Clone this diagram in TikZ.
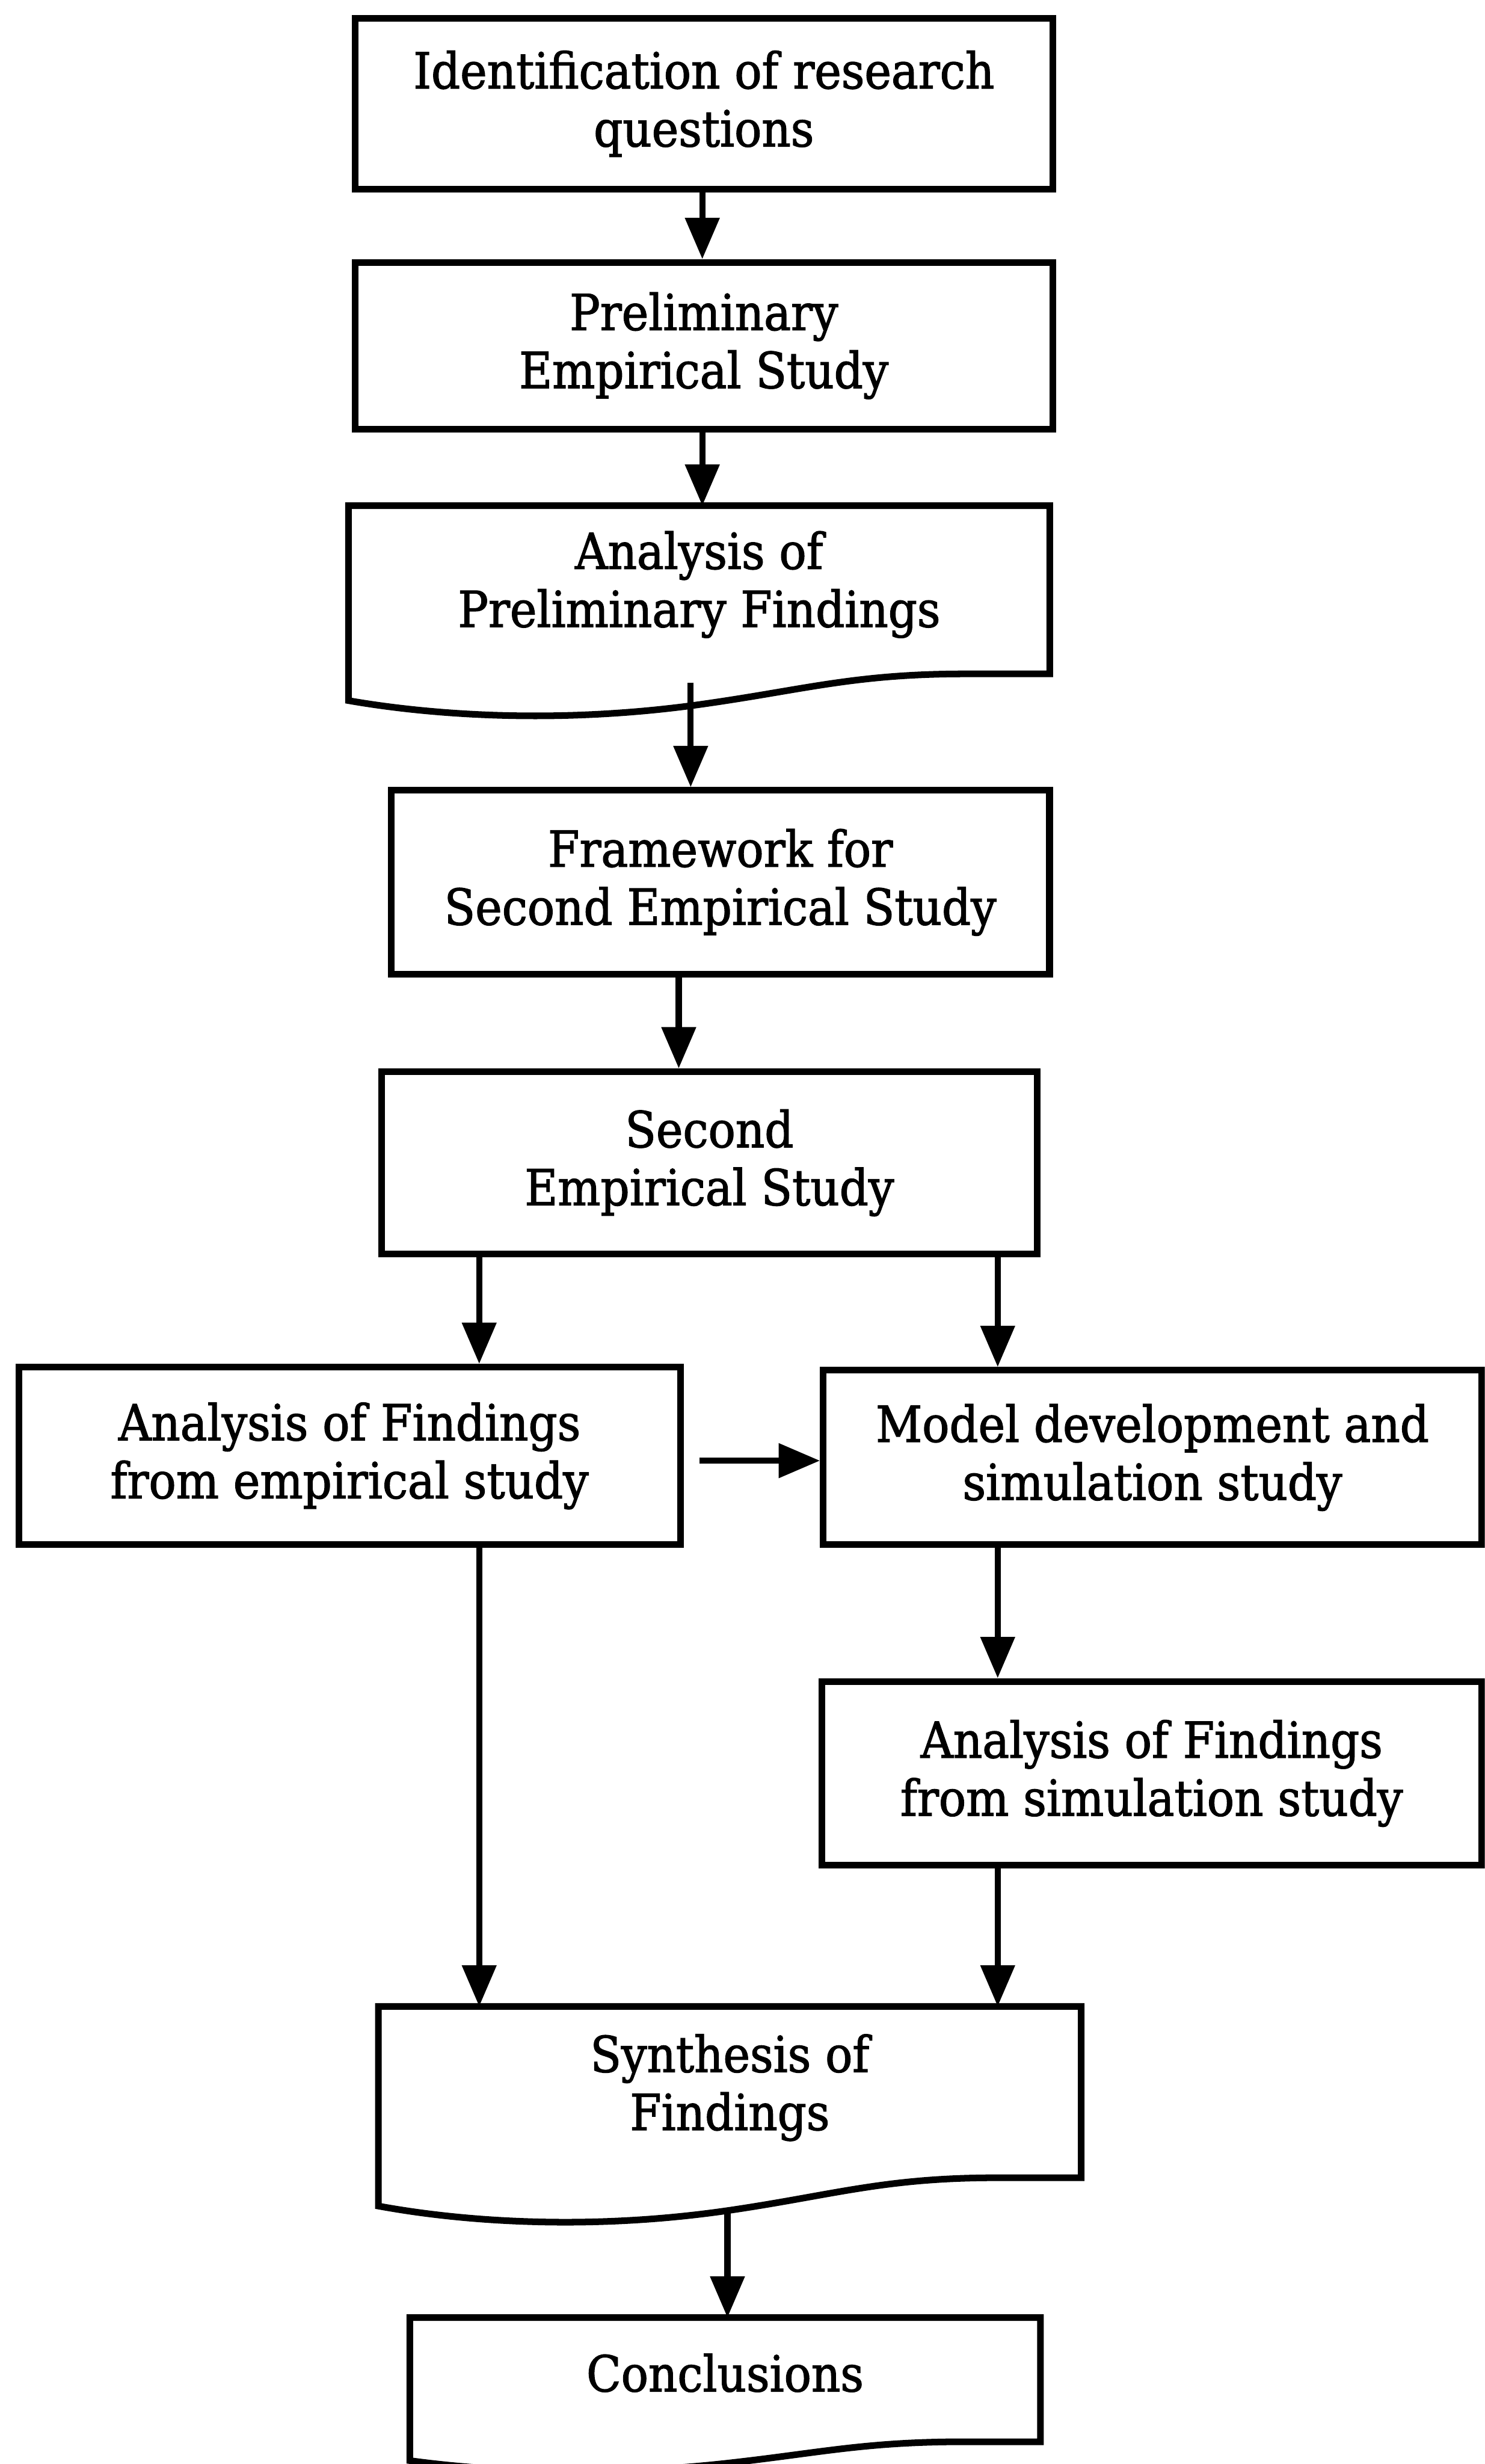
\documentclass[tikz,border=0pt]{standalone}
\usepackage{fontspec}
\setmainfont{DejaVu Serif}[FakeStretch=0.91,FakeBold=1.6]
\usetikzlibrary{arrows.meta,calc}
\newdimen\pu \pu=0.04cm

\tikzset{
  boxline/.style={line width=4.8pt, line join=miter},
  boxtext/.style={rectangle, inner sep=0pt, align=center,
    font=\fontsize{36}{42}\selectfont},
  stepbox/.style={boxtext, boxline, draw},
  docbox/.style={boxtext},
  arr/.style={line width=4.4pt, -{Triangle[length=1.05cm,width=0.85cm]}},
}

% document symbol: straight top and sides, wavy bottom edge
% #1 node, #2 drop of the left side, #3 how much higher the right side ends
\newcommand\wavebox[3]{%
  \draw[boxline] (#1.north west)
    -- ($(#1.north west)+(0,#2)$)
    .. controls ($(#1.north west)!0.12!(#1.north east)+(0,{#2+0.55*#3})$)
            and ($(#1.north west)!0.30!(#1.north east)+(0,{#2+0.88*#3})$)
    .. ($(#1.north west)!0.50!(#1.north east)+(0,{#2+0.15*#3})$)
    .. controls ($(#1.north west)!0.65!(#1.north east)+(0,{#2-0.40*#3})$)
            and ($(#1.north west)!0.72!(#1.north east)+(0,{#2-#3})$)
    .. ($(#1.north west)!0.88!(#1.north east)+(0,{#2-#3})$)
    -- ($(#1.north east)+(0,{#2-#3})$)
    -- (#1.north east) -- cycle;}

\begin{document}
\begin{tikzpicture}[x=0.04cm, y=-0.04cm]
\useasboundingbox (0,0) rectangle (945,1568);
\clip (0,0) rectangle (945,1568);

% process steps
\node[stepbox, minimum width=444\pu, minimum height=109\pu] (ident) at (448,66)
  {Identification of research\\questions};
\node[stepbox, minimum width=444\pu, minimum height=106\pu] (prelim) at (448,220)
  {Preliminary\\Empirical Study};
\node[docbox, minimum width=446\pu, minimum height=100\pu] (anaprelim) at (445,372)
  {Analysis of\\Preliminary Findings};
\wavebox{anaprelim}{124}{17}
\node[stepbox, minimum width=419\pu, minimum height=117\pu] (framework) at (458.5,561.5)
  {Framework for\\Second Empirical Study};
\node[stepbox, minimum width=417\pu, minimum height=116\pu] (second) at (451.5,740)
  {Second\\Empirical Study};
\node[stepbox, minimum width=421\pu, minimum height=113\pu] (anaemp) at (222.5,926.5)
  {Analysis of Findings\\from empirical study};
\node[stepbox, minimum width=419\pu, minimum height=111\pu] (model) at (733.5,927.5)
  {Model development and\\simulation study};
\node[stepbox, minimum width=420\pu, minimum height=117\pu] (anasim) at (733,1128.5)
  {Analysis of Findings\\from simulation study};
\node[docbox, minimum width=447\pu, minimum height=103\pu] (synth) at (464.5,1328.5)
  {Synthesis of\\Findings};
\wavebox{synth}{127}{18}
\node[docbox, minimum width=401\pu, minimum height=70\pu] (concl) at (461.5,1510)
  {Conclusions};
\wavebox{concl}{91}{12}

% connector columns
\coordinate (xa) at (447,0);
\coordinate (xb) at (439.6,0);
\coordinate (xc) at (432,0);
\coordinate (xl) at (305,0);
\coordinate (xr) at (635,0);
\coordinate (xd) at (463,0);

% connectors
\draw[arr] (ident.south -| xa) -- (prelim.north -| xa);
\draw[arr] (prelim.south -| xa) -- (anaprelim.north -| xa);
\path (anaprelim.north -| xb) ++(0,112.5) coordinate (a3s);
\draw[arr] (a3s) -- (framework.north -| xb);
\draw[arr] (framework.south -| xc) -- (second.north -| xc);
\draw[arr] (second.south -| xl) -- (anaemp.north -| xl);
\draw[arr] (second.south -| xr) -- (model.north -| xr);
\path (anaemp.east) ++(10,3) coordinate (a6s);
\draw[arr] (a6s) -- (a6s -| model.west);
\draw[arr] (model.south -| xr) -- (anasim.north -| xr);
\draw[arr] (anaemp.south -| xl) -- (synth.north -| xl);
\draw[arr] (anasim.south -| xr) -- (synth.north -| xr);
\path (synth.north -| xd) ++(0,131) coordinate (a10s);
\draw[arr] (a10s) -- (concl.north -| xd);
\end{tikzpicture}
\end{document}
